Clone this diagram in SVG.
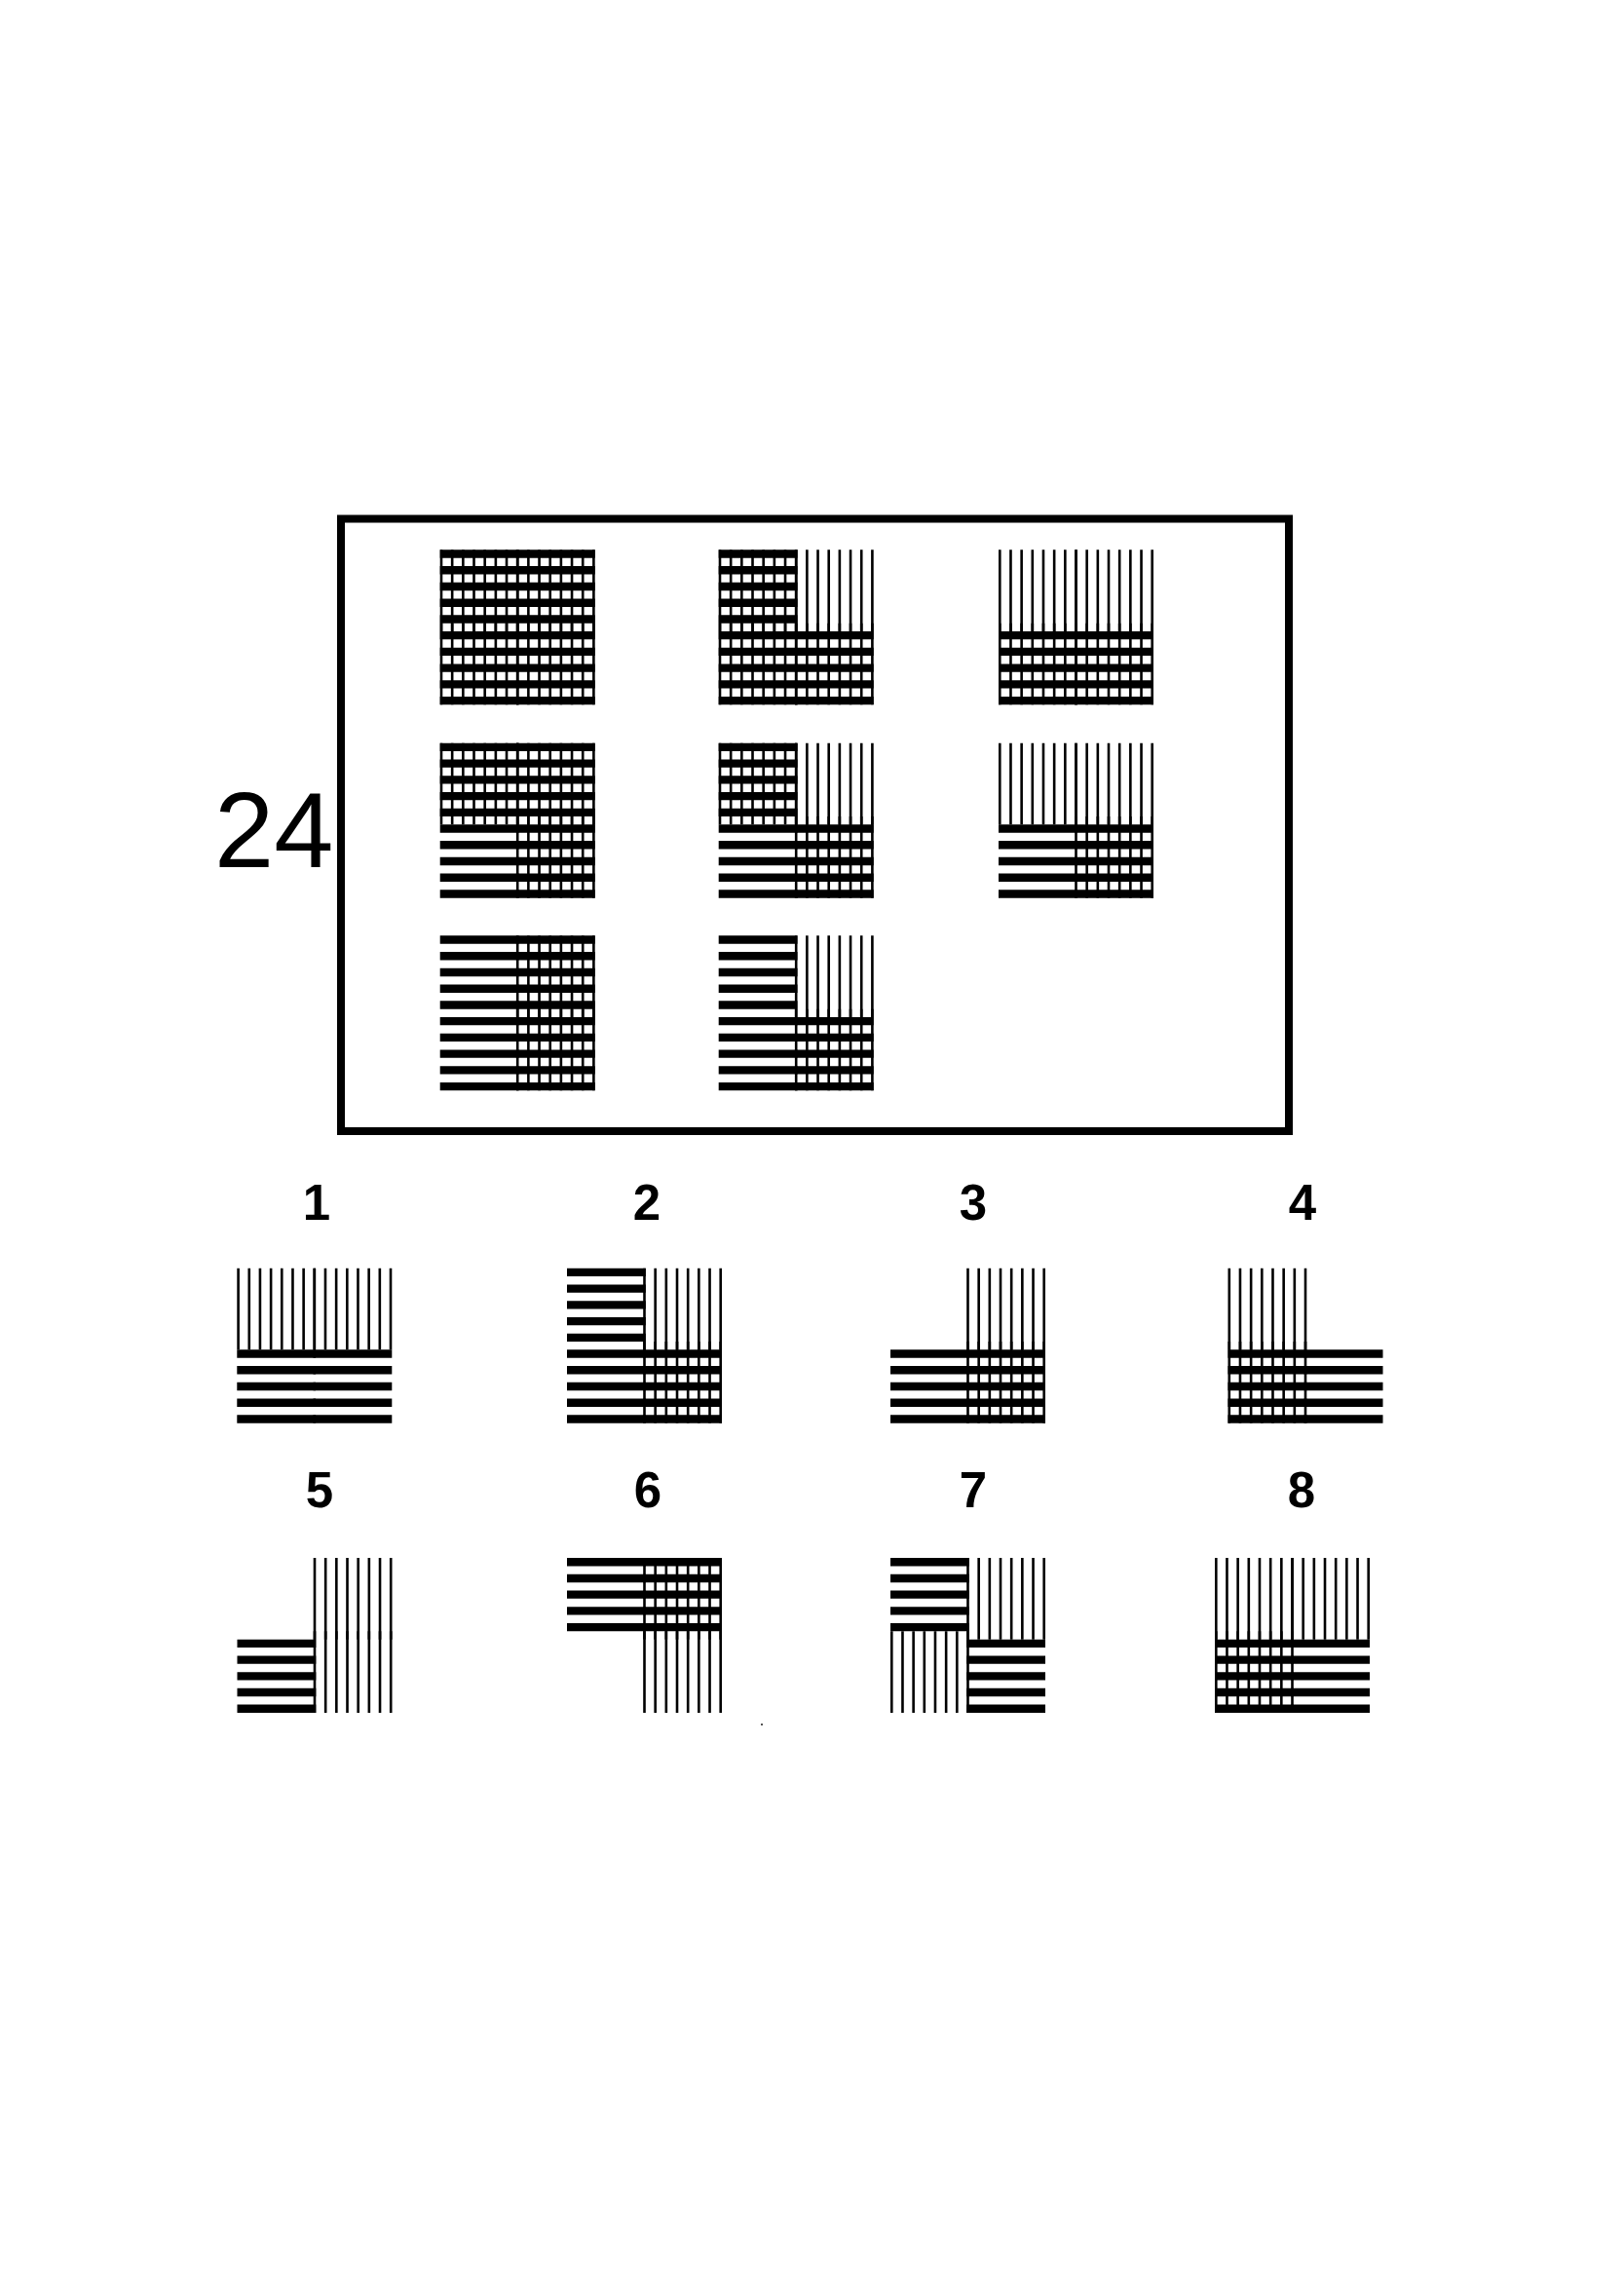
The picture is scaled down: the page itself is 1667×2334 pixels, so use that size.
<svg xmlns="http://www.w3.org/2000/svg" xmlns:xlink="http://www.w3.org/1999/xlink" width="1667" height="2334" viewBox="0 0 1667 2334">
<style>
.v{fill:none;stroke:#000;stroke-width:2.6}
.h{fill:none;stroke:#000;stroke-width:8.4}
.num{font-family:"Liberation Sans",Arial,sans-serif;font-weight:bold;font-size:51px;fill:#000;text-anchor:middle}
.big{font-family:"Liberation Sans",Arial,sans-serif;font-size:110px;fill:#000}
</style>
<defs>
<path id="vtl" class="v" d="M1.3 0V83.67M12.47 0V83.67M23.64 0V83.67M34.81 0V83.67M45.98 0V83.67M57.16 0V83.67M68.33 0V83.67M79.5 0V83.67"/>
<path id="vtr" class="v" d="M79.5 0V83.67M90.67 0V83.67M101.84 0V83.67M113.01 0V83.67M124.18 0V83.67M135.35 0V83.67M146.53 0V83.67M157.7 0V83.67"/>
<path id="vbl" class="v" d="M1.3 75.33V159M12.47 75.33V159M23.64 75.33V159M34.81 75.33V159M45.98 75.33V159M57.16 75.33V159M68.33 75.33V159M79.5 75.33V159"/>
<path id="vbr" class="v" d="M79.5 75.33V159M90.67 75.33V159M101.84 75.33V159M113.01 75.33V159M124.18 75.33V159M135.35 75.33V159M146.53 75.33V159M157.7 75.33V159"/>
<path id="htl" class="h" d="M0 4.2H80.8M0 20.93H80.8M0 37.67H80.8M0 54.4H80.8M0 71.13H80.8"/>
<path id="htr" class="h" d="M78.2 4.2H159M78.2 20.93H159M78.2 37.67H159M78.2 54.4H159M78.2 71.13H159"/>
<path id="hbl" class="h" d="M0 87.87H80.8M0 104.6H80.8M0 121.33H80.8M0 138.07H80.8M0 154.8H80.8"/>
<path id="hbr" class="h" d="M78.2 87.87H159M78.2 104.6H159M78.2 121.33H159M78.2 138.07H159M78.2 154.8H159"/>
</defs>
<rect width="1667" height="2334" fill="#fff"/>
<g id="connectors"></g>
<g id="problem-label"><text class="big" x="220" y="890">24</text></g>
<g id="matrix-frame"><rect x="350" y="532.5" width="973" height="628.5" fill="none" stroke="#000" stroke-width="8"/></g>
<g id="m1" transform="translate(451.7,564.3)"><use href="#vtl"/><use href="#vtr"/><use href="#vbl"/><use href="#vbr"/><use href="#htl"/><use href="#htr"/><use href="#hbl"/><use href="#hbr"/></g>
<g id="m2" transform="translate(737.7,564.3)"><use href="#vtl"/><use href="#vtr"/><use href="#vbl"/><use href="#vbr"/><use href="#htl"/><use href="#hbl"/><use href="#hbr"/></g>
<g id="m3" transform="translate(1025,564.3)"><use href="#vtl"/><use href="#vtr"/><use href="#vbl"/><use href="#vbr"/><use href="#hbl"/><use href="#hbr"/></g>
<g id="m4" transform="translate(451.7,762.7)"><use href="#vtl"/><use href="#vtr"/><use href="#vbr"/><use href="#htl"/><use href="#htr"/><use href="#hbl"/><use href="#hbr"/></g>
<g id="m5" transform="translate(737.7,762.7)"><use href="#vtl"/><use href="#vtr"/><use href="#vbr"/><use href="#htl"/><use href="#hbl"/><use href="#hbr"/></g>
<g id="m6" transform="translate(1025,762.7)"><use href="#vtl"/><use href="#vtr"/><use href="#vbr"/><use href="#hbl"/><use href="#hbr"/></g>
<g id="m7" transform="translate(451.7,960.3)"><use href="#vtr"/><use href="#vbr"/><use href="#htl"/><use href="#htr"/><use href="#hbl"/><use href="#hbr"/></g>
<g id="m8" transform="translate(737.7,960.3)"><use href="#vtr"/><use href="#vbr"/><use href="#htl"/><use href="#hbl"/><use href="#hbr"/></g>
<g id="opt1"><text class="num" x="325" y="1252">1</text><g transform="translate(243.3,1301.7)"><use href="#vtl"/><use href="#vtr"/><use href="#hbl"/><use href="#hbr"/></g></g>
<g id="opt2"><text class="num" x="664" y="1252">2</text><g transform="translate(582,1301.7)"><use href="#vtr"/><use href="#vbr"/><use href="#htl"/><use href="#hbl"/><use href="#hbr"/></g></g>
<g id="opt3"><text class="num" x="999" y="1252">3</text><g transform="translate(914,1301.7)"><use href="#vtr"/><use href="#vbr"/><use href="#hbl"/><use href="#hbr"/></g></g>
<g id="opt4"><text class="num" x="1337" y="1252">4</text><g transform="translate(1260.5,1301.7)"><use href="#vtl"/><use href="#vbl"/><use href="#hbl"/><use href="#hbr"/></g></g>
<g id="opt5"><text class="num" x="328" y="1547">5</text><g transform="translate(243.5,1599)"><use href="#vtr"/><use href="#vbr"/><use href="#hbl"/></g></g>
<g id="opt6"><text class="num" x="665" y="1547">6</text><g transform="translate(582,1599)"><use href="#htl"/><use href="#htr"/><use href="#vtr"/><use href="#vbr"/></g></g>
<g id="opt7"><text class="num" x="999" y="1547">7</text><g transform="translate(914,1599)"><use href="#htl"/><use href="#vtr"/><use href="#vbl"/><use href="#hbr"/></g></g>
<g id="opt8"><text class="num" x="1336" y="1547">8</text><g transform="translate(1247,1599)"><use href="#vtl"/><use href="#vtr"/><use href="#vbl"/><use href="#hbl"/><use href="#hbr"/></g></g>
<rect id="speck" x="781" y="1769" width="2" height="2" fill="#555"/>
</svg>
